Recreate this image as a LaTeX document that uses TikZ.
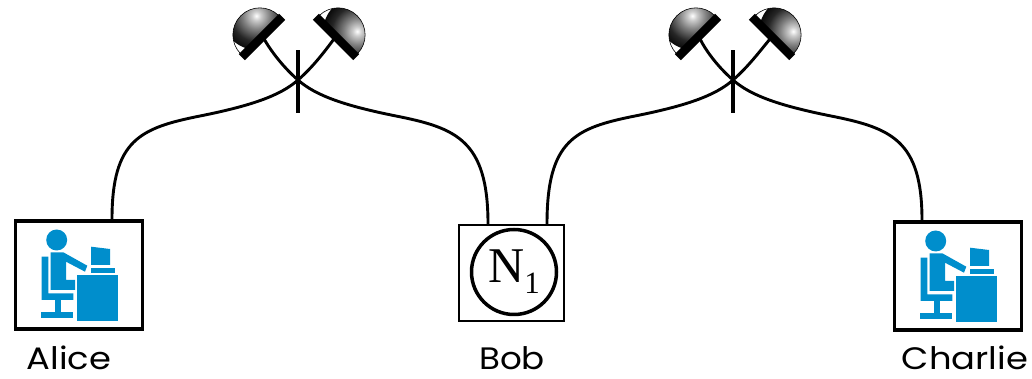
\documentclass[tikz,border=0pt]{standalone}
\usepackage{fontspec}
\setmainfont{Poppins}
\newfontfamily\nodefont{Liberation Serif}
\definecolor{iconblue}{RGB}{0,142,204}
% radial fill of a detector dome: bright spot fading into black
\pgfdeclareradialshading{domeball}{\pgfpointorigin}{%
  color(0bp)=(white); color(3bp)=(white!80!black); color(9bp)=(black!50);
  color(17bp)=(black!85); color(25bp)=(black); color(50bp)=(black)}
\tikzset{
  fiber/.style={line width=2.9pt, line cap=round},
  crossbar/.style={line width=4.5pt},
  userbox/.style={draw, line width=3.5pt, minimum width=127pt, minimum height=108pt, inner sep=0pt},
  nodebox/.style={draw, line width=2pt, minimum width=105pt, minimum height=96pt, inner sep=0pt},
  nametag/.style={font=\fontsize{31}{38}\selectfont, anchor=base, inner sep=0pt},
  % person seated at a desk with a monitor
  pics/deskuser/.style={code={
    \fill[iconblue] (-22.3,35) circle (10.5);
    \fill[iconblue] (-28.3,22.7) -- (-15.7,22.7) -- (8.3,9.3) -- (6,3.3) -- (-13,13.3)
      -- (-13,-5) -- (-4,-5) -- (-4,-15) -- (-28.3,-15) -- cycle;
    \fill[iconblue] (-37.3,18.3) -- (-30.7,18.3) -- (-30.7,-18.3) -- (-5.7,-18.3)
      -- (-5.7,-25) -- (-37.3,-25) -- cycle;
    \fill[iconblue] (-24,-25) rectangle (-18.3,-38.3);
    \fill[iconblue] (-38.3,-37.3) rectangle (-5.7,-42.7);
    \fill[iconblue] (12,28.3) -- (31,26) -- (31,10) -- (12,10) -- cycle;
    \fill[iconblue] (12,7.3) rectangle (36,2.3);
    \fill[iconblue] (-2.3,0) rectangle (39.3,-46);
  }},
  % single-photon detector: shaded dome on a thick base plate
  pics/detector/.style={code={
    \begin{scope}
      \clip (-27,3) arc[start angle=180, end angle=0, radius=27] -- cycle;
      \shade[shading=domeball] (11,19) circle (34);
    \end{scope}
    \draw[line width=0.6pt] (-27,3) arc[start angle=180, end angle=0, radius=27] -- cycle;
    \draw[line width=8.5pt] (-28.5,0) -- (28.5,0);
    \coordinate (-port) at (0,-3);
  }}
}
\begin{document}
\begin{tikzpicture}[x=1pt, y=1pt]
  \useasboundingbox (0,0) rectangle (1032,379);

  % users and the central node
  \node[userbox] (alice) at (79,104) {};
  \node[userbox] (charlie) at (958,103) {};
  \node[nodebox] (bob) at (511.5,106) {};
  \pic at (alice.center) {deskuser};
  \pic at (charlie.center) {deskuser};
  \node[circle, draw, line width=3.5pt, minimum size=85pt, inner sep=0pt] (n1) at (514,107)
    {\nodefont\fontsize{50}{50}\selectfont N\raisebox{-11pt}{\fontsize{31}{31}\selectfont 1}};

  \node[nametag] (alicename) at (69,9) {\scalebox{1.14}[1]{Alice}};
  \node[nametag] (bobname) at (512,9) {\scalebox{1.1}[1]{Bob}};
  \node[nametag] (charliename) at (965,9) {\scalebox{1.14}[1]{Charlie}};

  % fibre ends on the boxes
  \coordinate (aw) at ([xshift=33pt]alice.north);
  \coordinate (bwl) at ([xshift=-23.5pt]bob.north);
  \coordinate (bwr) at ([xshift=35.5pt]bob.north);
  \coordinate (cw) at ([xshift=-36pt]charlie.north);

  % beam-splitter crossings
  \coordinate (x1) at (298,299);
  \coordinate (x2) at (733,299);

  % detectors
  \pic[rotate=45] (dl1) at (262,342) {detector};
  \pic[rotate=-45] (dr1) at (336,342) {detector};
  \pic[rotate=45] (dl2) at (698,342) {detector};
  \pic[rotate=-45] (dr2) at (772,342) {detector};

  % fibres
  \draw[fiber] (aw) .. controls (112,239) and (140,251) .. (200,263)
    .. controls (250,273) and (280,283) .. (x1)
    .. controls (313,312) and (325,328) .. (dr1-port);
  \draw[fiber] (bwl) .. controls (488,239) and (456,251) .. (396,263)
    .. controls (346,273) and (316,283) .. (x1)
    .. controls (283,312) and (271,328) .. (dl1-port);
  \draw[fiber] (bwr) .. controls (547,239) and (575,251) .. (635,263)
    .. controls (685,273) and (715,283) .. (x2)
    .. controls (748,312) and (760,328) .. (dr2-port);
  \draw[fiber] (cw) .. controls (922,239) and (891,251) .. (831,263)
    .. controls (781,273) and (751,283) .. (x2)
    .. controls (718,312) and (706,328) .. (dl2-port);

  \draw[crossbar] ([yshift=-33pt]x1) -- ([yshift=30pt]x1);
  \draw[crossbar] ([yshift=-33pt]x2) -- ([yshift=30pt]x2);
\end{tikzpicture}
\end{document}
